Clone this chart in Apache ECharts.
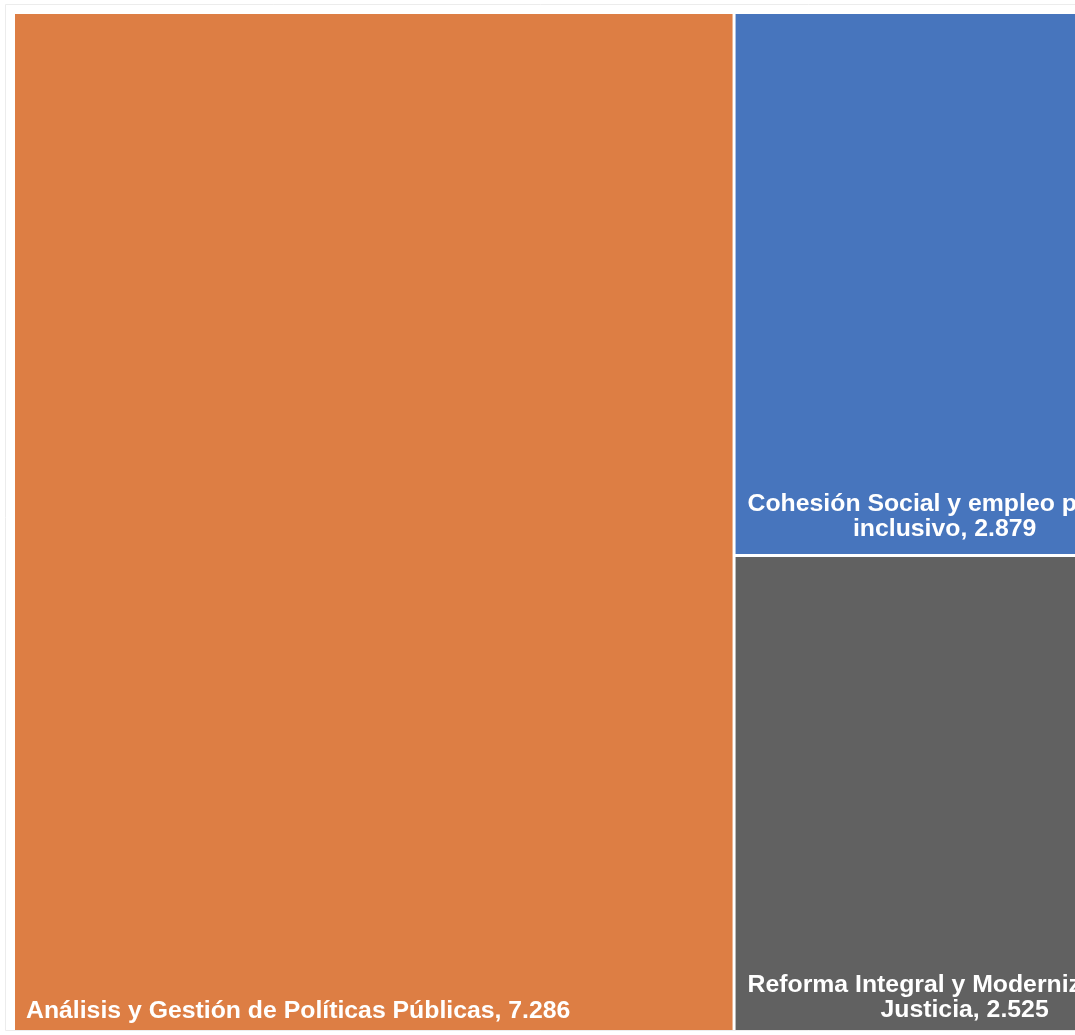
<!DOCTYPE html>
<html>
<head>
<meta charset="utf-8">
<script src="https://cdn.jsdelivr.net/npm/echarts@6/dist/echarts.min.js"></script>
<style>html,body{margin:0;padding:0;background:#fff;}#c{width:1075px;height:1035px;}</style>
</head>
<body>
<div id="c"></div>
<script>
// Data
const categories = [
  "Análisis y Gestión de Políticas Públicas",
  "Cohesión Social y empleo para el inclusivo",
  "Reforma Integral y Modernización de Justicia"
];
const labelLines = [
  ["Análisis y Gestión de Políticas Públicas, 7.286"],
  ["Cohesión Social y empleo para el", "inclusivo, 2.879"],
  ["Reforma Integral y Modernización de", "Justicia, 2.525"]
];
const values = [7.286, 2.879, 2.525];
const colors = ["#DD7E44", "#4775BD", "#616161"];

const FONT_SIZE = 24.8;
const FONT_FAMILY = 'Liberation Sans, Arial, sans-serif';
const labelTop = [980, 473, 411];

function textWidth(s) {
  const cv = document.createElement('canvas').getContext('2d');
  cv.font = 'bold ' + FONT_SIZE + 'px ' + FONT_FAMILY;
  return cv.measureText(s).width;
}

const chart = echarts.init(document.getElementById('c'), null, {renderer: 'canvas'});
const data = categories.map((name, i) => {
  const lines = labelLines[i];
  const multi = lines.length > 1;
  const w1 = textWidth(lines[0]);
  return {
    name: name,
    value: values[i],
    itemStyle: { color: colors[i] },
    label: {
      position: [multi ? 12 + w1 / 2 : 6, labelTop[i]],
      align: multi ? 'center' : 'left',
      verticalAlign: 'top',
      formatter: () => lines.join('\n')
    }
  };
});

chart.setOption({
  animation: false,
  backgroundColor: '#ffffff',
  graphic: [{
    type: 'rect',
    shape: { x: 5.5, y: 4.5, width: 1200, height: 1026 },
    style: { fill: 'none', stroke: '#ececec', lineWidth: 1 },
    z: -1
  }],
  series: [{
    type: 'treemap',
    left: 15,
    top: 14,
    width: 1252,
    height: 1016,
    roam: false,
    nodeClick: false,
    breadcrumb: { show: false },
    squareRatio: 1,
    itemStyle: { borderWidth: 0, gapWidth: 3, borderColor: '#ffffff' },
    levels: [{ itemStyle: { borderWidth: 0, gapWidth: 3, borderColor: '#ffffff' } }],
    label: {
      show: true,
      color: '#ffffff',
      fontFamily: FONT_FAMILY,
      fontWeight: 'bold',
      fontSize: FONT_SIZE,
      lineHeight: 25,
      overflow: 'none'
    },
    upperLabel: { show: false },
    data: data
  }]
});
</script>
</body>
</html>
